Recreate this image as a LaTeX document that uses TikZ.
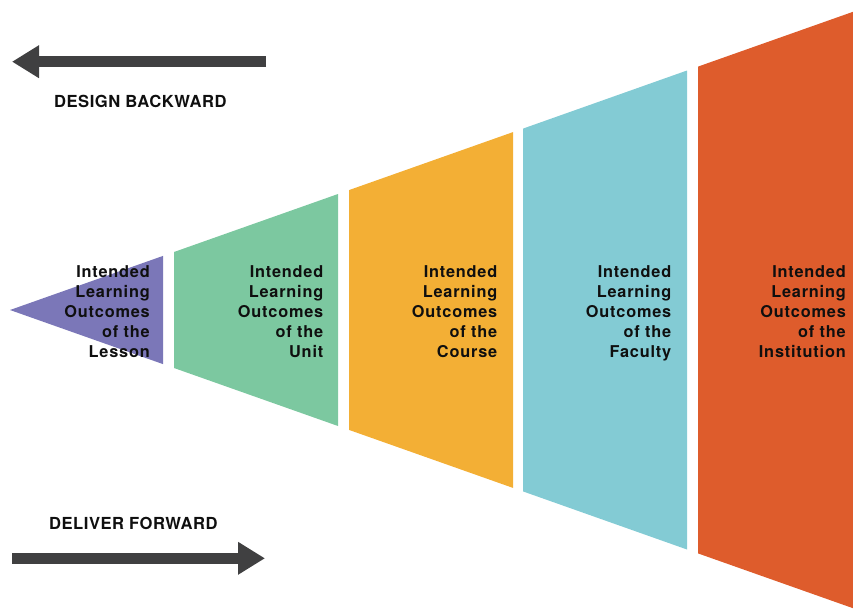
\documentclass[tikz,border=0pt]{standalone}
\usepackage{fontspec}
\setmainfont{TeX Gyre Heros}
\newfontfamily\lblfont[LetterSpace=5]{TeX Gyre Heros}
\newfontfamily\headfont[LetterSpace=3]{TeX Gyre Heros}
\usetikzlibrary{arrows.meta}
\definecolor{cLesson}{RGB}{123,119,184}
\definecolor{cUnit}{RGB}{124,200,160}
\definecolor{cCourse}{RGB}{243,175,53}
\definecolor{cFaculty}{RGB}{131,203,212}
\definecolor{cInst}{RGB}{222,92,44}
\definecolor{cArrow}{RGB}{64,64,65}
\definecolor{cText}{RGB}{15,15,15}
\tikzset{
  panel/.style={draw=none},
  lbl/.style={anchor=base east, inner sep=0pt, text=cText,
    font=\lblfont\bfseries\fontsize{16.3}{20}\selectfont},
  head/.style={anchor=base west, inner sep=0pt, text=cText,
    font=\headfont\bfseries\fontsize{16.6}{20}\selectfont},
  bigarrow/.style={draw=cArrow, line width=10.5pt,
    -{Triangle[length=27pt,width=31pt]}}
}
\newcommand{\ilo}[1]{\begin{tabular}[t]{@{}r@{}}Intended\\Learning\\Outcomes\\of the\\#1\end{tabular}}
\begin{document}
\begin{tikzpicture}[x=1pt,y=-1pt]
\useasboundingbox (0,0) rectangle (853,608);
% panels
\fill[cLesson] (10,310) -- (163,255.9) -- (163,364.1) -- cycle;
\fill[cUnit] (174,252) -- (338,194) -- (338,426) -- (174,368) -- cycle;
\fill[cCourse] (349,190.1) -- (513,132.1) -- (513,487.9) -- (349,429.9) -- cycle;
\fill[cFaculty] (523,128.6) -- (687,70.5) -- (687,549.5) -- (523,491.4) -- cycle;
\fill[cInst] (698,66.6) -- (853,11.8) -- (853,608.2) -- (698,553.4) -- cycle;
% labels
\node[lbl] (tLesson) at (150,277) {\ilo{Lesson}};
\node[lbl] (tUnit) at (323.5,277) {\ilo{Unit}};
\node[lbl] (tCourse) at (497.5,277) {\ilo{Course}};
\node[lbl] (tFaculty) at (671.5,277) {\ilo{Faculty}};
\node[lbl] (tInst) at (846,277) {\ilo{Institution}};
% arrows
\coordinate (bStart) at (266,61.7);
\coordinate (bEnd) at (12,61.7);
\draw[bigarrow] (bStart) -- (bEnd);
\node[head] (design) at (54,107.3) {DESIGN BACKWARD};
\coordinate (fStart) at (12,558.3);
\coordinate (fEnd) at (265,558.3);
\draw[bigarrow] (fStart) -- (fEnd);
\node[head] (deliver) at (49,529) {DELIVER FORWARD};
\end{tikzpicture}
\end{document}
